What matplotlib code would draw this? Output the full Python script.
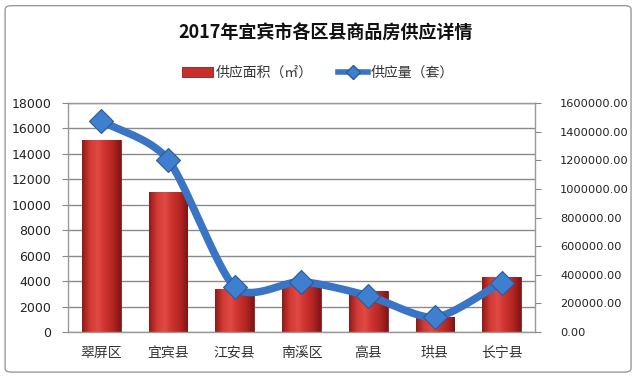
import numpy as np
import matplotlib.pyplot as plt
from matplotlib.patches import FancyBboxPatch, Patch
from matplotlib.lines import Line2D
from matplotlib.colors import LinearSegmentedColormap

plt.rcParams['font.family'] = ['Noto Sans CJK SC', 'DejaVu Sans']

# ---------------- data ----------------
districts = ['翠屏区', '宜宾县', '江安县', '南溪区', '高县', '珙县', '长宁县']
area = [15100, 11000, 3350, 4050, 3250, 1200, 4350]            # 供应面积（㎡）, left axis
units = [1475000, 1205000, 315000, 352000, 254000, 103000, 345000]  # 供应量（套）, right axis
left_ticks = list(range(0, 18001, 2000))
right_ticks = list(range(0, 1600001, 200000))

title = '2017年宜宾市各区县商品房供应详情'
bar_label = '供应面积（㎡）'
line_label = '供应量（套）'


def smooth(xs, ys, n=30, k=0.38):
    # hermite curve through the points (softer than catmull-rom), like excel's smoothed line
    xs = np.asarray(xs, float)
    ys = np.asarray(ys, float)
    px = np.concatenate([[2 * xs[0] - xs[1]], xs, [2 * xs[-1] - xs[-2]]])
    py = np.concatenate([[2 * ys[0] - ys[1]], ys, [2 * ys[-1] - ys[-2]]])
    t = np.linspace(0, 1, n, endpoint=False)
    h00 = 2 * t ** 3 - 3 * t ** 2 + 1
    h10 = t ** 3 - 2 * t ** 2 + t
    h01 = -2 * t ** 3 + 3 * t ** 2
    h11 = t ** 3 - t ** 2
    outx, outy = [], []
    for i in range(1, len(px) - 2):
        for p, out in ((px, outx), (py, outy)):
            m1 = k * (p[i + 1] - p[i - 1])
            m2 = k * (p[i + 2] - p[i])
            out.extend(h00 * p[i] + h10 * m1 + h01 * p[i + 1] + h11 * m2)
    outx.append(xs[-1])
    outy.append(ys[-1])
    return np.array(outx), np.array(outy)


fig = plt.figure(figsize=(6.4, 3.77), dpi=100)
fig.patch.set_facecolor('white')
fig.patches.append(FancyBboxPatch((0.008, 0.013), 0.978, 0.972, boxstyle='round,pad=0,rounding_size=0.01',
                                  transform=fig.transFigure, facecolor='none', edgecolor='#9a9a9a', lw=1.0))

ax = fig.add_axes([0.106, 0.119, 0.730, 0.608])
x = np.arange(len(districts))

bars = ax.bar(x, area, width=0.58, color='#c6302c', edgecolor='#8c1c1c', linewidth=0.6, zorder=2)
grad = LinearSegmentedColormap.from_list('g', ['#8e1b1b', '#d23a34', '#e04a44', '#cc322e', '#b42622', '#7e1616'])
for b in bars:
    bx, by = b.get_x(), b.get_y()
    w, h = b.get_width(), b.get_height()
    im = ax.imshow(np.linspace(0, 1, 64).reshape(1, -1), cmap=grad, aspect='auto',
                   extent=[bx, bx + w, by, by + h], zorder=2.1)
    im.set_clip_path(b)

ax.set_xlim(-0.5, len(districts) - 0.5)
ax.set_ylim(0, 18000)
ax.set_yticks(left_ticks)
ax.set_yticklabels([str(v) for v in left_ticks], family='DejaVu Sans', fontsize=9, color='#222222')
ax.set_xticks(x)
ax.set_xticklabels(districts, fontsize=10, color='#333333')
ax.tick_params(axis='x', length=0, pad=10)
ax.tick_params(axis='y', length=4, color='#888888', pad=8)
ax.grid(axis='y', color='#8a8a8a', lw=1.0, zorder=0)
ax.set_axisbelow(True)
for s in ax.spines.values():
    s.set_color('#999999')
    s.set_linewidth(1.0)

ax2 = ax.twinx()
ax2.set_ylim(0, 1600000)
ax2.set_yticks(right_ticks)
ax2.set_yticklabels(['%.2f' % v for v in right_ticks], family='DejaVu Sans', fontsize=8.2, color='#222222')
ax2.tick_params(axis='y', length=4, color='#888888', pad=14)
for s in ax2.spines.values():
    s.set_visible(False)

sx, sy = smooth(x, units)
ax2.plot(sx, sy, color='#3a74c4', lw=5.5, solid_capstyle='round', zorder=3)
ax2.plot(x, units, linestyle='none', marker='D', markersize=12.5, markerfacecolor='#3f7fd0',
         markeredgecolor='#2a5a9a', markeredgewidth=0.8, zorder=4)

fig.text(0.509, 0.912, title, ha='center', va='center', fontsize=13, fontweight='bold', color='#111111')

handles = [Patch(facecolor='#c6302c', edgecolor='#8c1c1c', lw=0.6),
           Line2D([0], [0], color='#3a74c4', lw=4, marker='D', markersize=7,
                  markerfacecolor='#3f7fd0', markeredgecolor='#2a5a9a')]
fig.legend(handles, [bar_label, line_label], loc='center', bbox_to_anchor=(0.497, 0.806), ncol=2,
           frameon=False, fontsize=10, handlelength=2.2, handleheight=0.7, handletextpad=0.2,
           columnspacing=1.8, labelcolor='#333333')

fig.savefig('out.png', dpi=100, facecolor='white')
